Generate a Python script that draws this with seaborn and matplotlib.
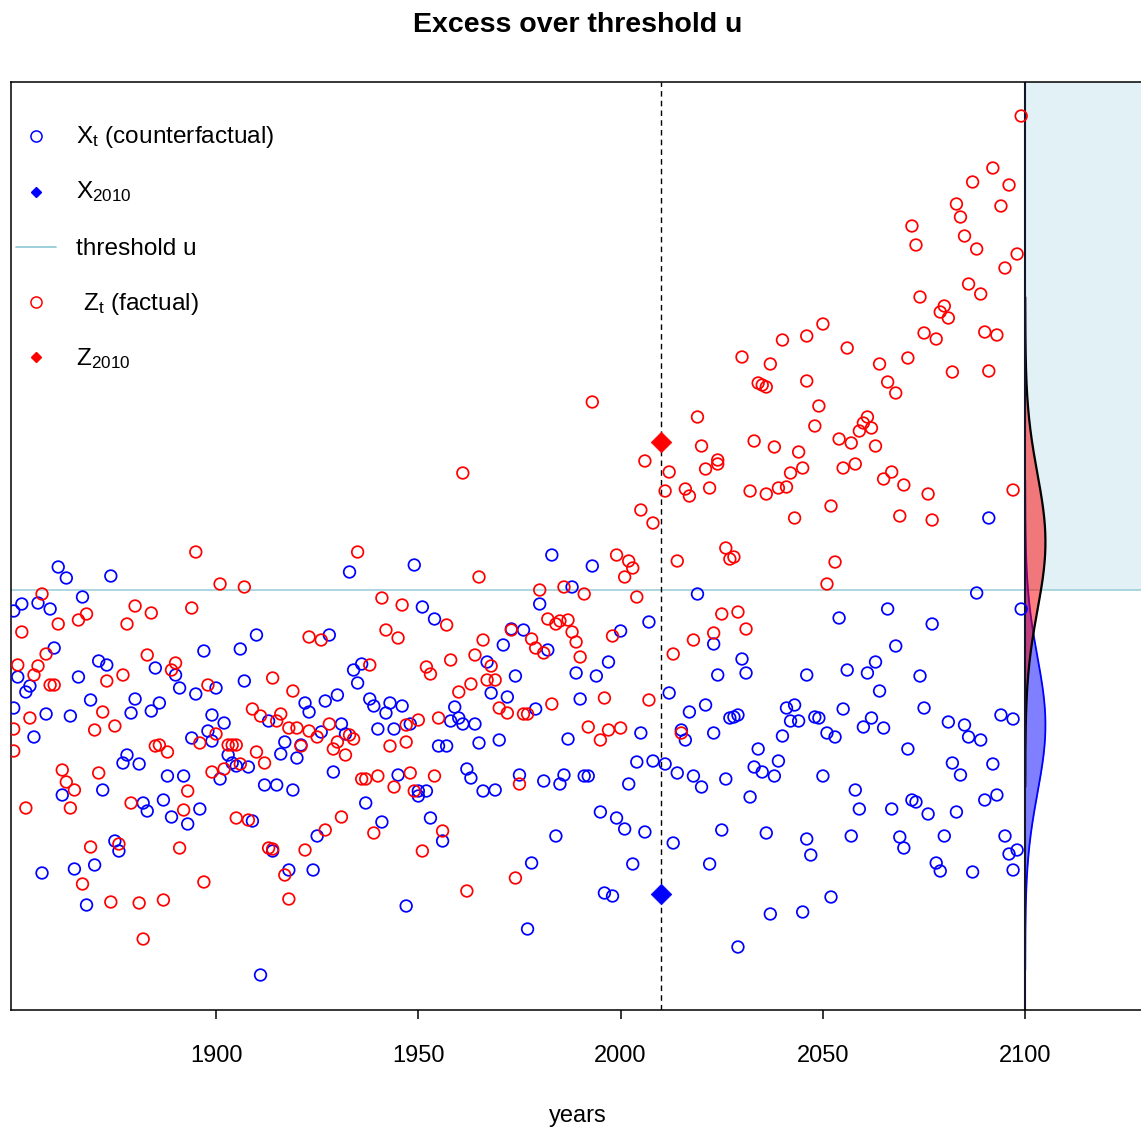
import numpy as np
import matplotlib
matplotlib.use("Agg")
import matplotlib.pyplot as plt
from matplotlib.lines import Line2D
import seaborn as sns

# ---------------------------------------------------------------- data
# counterfactual series X_t (year, value)
x_years = [1850, 1850, 1851, 1852, 1853, 1854, 1855, 1856, 1857, 1858, 1859, 1860, 1861, 1862,
           1863, 1864, 1865, 1866, 1867, 1868, 1869, 1870, 1871, 1872, 1873, 1874,
           1875, 1876, 1877, 1878, 1879, 1880, 1881, 1882, 1883, 1884, 1885, 1886, 1887, 1888,
           1889, 1890, 1891, 1892, 1893, 1894, 1895, 1896, 1897, 1898,
           1899, 1899, 1900, 1901, 1902, 1903, 1904, 1905, 1906, 1907, 1908, 1909, 1910, 1911,
           1912, 1913, 1914, 1915, 1916, 1917, 1918, 1919, 1920, 1921, 1922, 1923, 1924,
           1925, 1926, 1927, 1928, 1929, 1930, 1931, 1932, 1933, 1934, 1935, 1936, 1937, 1938,
           1939, 1940, 1941, 1942, 1943, 1944, 1945, 1946, 1947, 1948,
           1949, 1950, 1950, 1951, 1952, 1953, 1954, 1955, 1956, 1957, 1958, 1959, 1960, 1961,
           1962, 1963, 1964, 1965, 1966, 1967, 1968, 1969, 1970, 1971, 1972,
           1973, 1974, 1975, 1976, 1977, 1978, 1979, 1980, 1981, 1982, 1983, 1984, 1985, 1986,
           1987, 1988, 1989, 1990, 1991, 1992, 1993, 1994, 1995, 1996, 1997,
           1998, 1999, 2000, 2001, 2002, 2003, 2004, 2005, 2006, 2007, 2008, 2011, 2012, 2013,
           2014, 2015, 2016, 2017, 2018, 2019, 2020, 2021, 2022,
           2023, 2023, 2024, 2025, 2026, 2027, 2028, 2029, 2029, 2030, 2031, 2032, 2033, 2034,
           2035, 2036, 2037, 2038, 2039, 2040, 2041, 2042, 2043, 2044, 2045, 2046, 2046,
           2047, 2048, 2049, 2050, 2051, 2052, 2053, 2054, 2055, 2056, 2057, 2058, 2059, 2060,
           2061, 2062, 2063, 2064, 2065, 2066, 2067, 2068, 2069, 2070, 2071,
           2072, 2073, 2074, 2075, 2076, 2077, 2078, 2079, 2080, 2081, 2082, 2083, 2084, 2085,
           2086, 2087, 2088, 2089, 2090, 2091, 2092, 2093, 2094, 2095, 2096, 2097, 2097, 2098,
           2099]
x_values = [3.02, 3.99, 3.33, 4.06, 3.18, 3.24, 2.73, 4.07, 1.37, 2.96, 4.01, 3.62, 4.43, 2.15,
            4.32, 2.94, 1.41, 3.33, 4.13, 1.05, 3.10, 1.45, 3.49, 2.20, 3.45, 4.34,
            1.69, 1.59, 2.47, 2.55, 2.97, 3.11, 2.46, 2.07, 1.99, 2.99, 3.42, 3.07, 2.10, 2.34,
            1.93, 3.35, 3.22, 2.34, 1.86, 2.72, 3.16, 2.01, 3.59, 2.79,
            2.95, 2.69, 3.22, 2.31, 2.87, 2.55, 2.47, 2.44, 3.61, 3.29, 2.43, 1.89, 3.75, 0.35,
            2.25, 2.89, 1.59, 2.25, 2.56, 2.68, 1.40, 2.20, 2.52, 2.65, 3.07, 2.98, 1.40,
            1.74, 2.78, 3.09, 3.75, 2.38, 3.15, 2.86, 2.76, 4.38, 3.40, 3.27, 3.46, 2.07, 3.11,
            3.04, 2.81, 1.88, 2.97, 3.07, 2.81, 2.35, 3.04, 1.04, 2.86,
            4.45, 2.14, 2.19, 4.03, 2.19, 1.92, 3.91, 2.64, 1.69, 2.64, 2.89, 3.03, 2.92, 2.86,
            2.41, 2.32, 2.86, 2.67, 2.19, 3.48, 3.17, 2.20, 2.70, 3.65, 3.13,
            3.81, 3.34, 2.35, 3.80, 0.81, 1.47, 3.01, 4.06, 2.29, 3.60, 4.55, 1.74, 2.26, 2.35,
            2.71, 4.23, 3.37, 3.11, 2.34, 2.34, 4.44, 3.34, 1.98, 1.17, 3.48,
            1.14, 1.92, 3.79, 1.81, 2.26, 1.46, 2.48, 2.77, 1.78, 3.88, 2.49, 2.46, 3.17, 1.67,
            2.37, 2.80, 2.70, 2.98, 2.34, 4.16, 2.23, 3.05, 1.46,
            3.66, 2.77, 3.35, 1.80, 2.31, 2.92, 2.93, 2.95, 0.63, 3.51, 3.37, 2.13, 2.43, 2.61,
            2.38, 1.77, 0.96, 2.34, 2.49, 2.74, 3.02, 2.89, 3.05, 2.89, 0.98, 3.35, 1.71,
            1.55, 2.93, 2.92, 2.34, 2.77, 1.13, 2.73, 3.92, 3.01, 3.40, 1.74, 2.20, 2.01, 2.83,
            3.37, 2.92, 3.48, 3.19, 2.82, 4.01, 2.01, 3.64, 1.73, 1.62, 2.61,
            2.10, 2.08, 3.34, 3.02, 1.96, 3.86, 1.47, 1.39, 1.74, 2.88, 2.47, 1.98, 2.35, 2.85,
            2.73, 1.38, 4.17, 2.70, 2.10, 4.92, 2.46, 2.15, 2.95, 1.74, 1.56, 1.40, 2.91, 1.60,
            4.01]

# factual series Z_t (year, value)
z_years = [1850, 1850, 1851, 1852, 1853, 1854, 1855, 1856, 1857, 1858, 1859, 1860, 1861, 1862,
           1863, 1864, 1865, 1866, 1867, 1868, 1869, 1870, 1871,
           1872, 1873, 1874, 1875, 1876, 1877, 1878, 1879, 1880, 1881, 1882, 1883, 1884, 1885,
           1886, 1887, 1888, 1889, 1890, 1891, 1892, 1893, 1894, 1895, 1896, 1897, 1898, 1899,
           1900, 1901, 1902, 1903, 1904, 1905, 1905, 1906, 1907, 1908, 1909, 1910, 1911, 1912,
           1913, 1914, 1914, 1915, 1916, 1917, 1918, 1918, 1919, 1920, 1921, 1922, 1923,
           1923, 1925, 1926, 1927, 1928, 1929, 1930, 1931, 1932, 1933, 1934, 1935, 1936, 1937,
           1938, 1939, 1940, 1941, 1942, 1943, 1944, 1945, 1946, 1947,
           1947, 1948, 1949, 1950, 1951, 1952, 1953, 1954, 1955, 1956, 1957, 1958, 1960, 1961,
           1962, 1963, 1964, 1965, 1966, 1967, 1968, 1969, 1970, 1972,
           1973, 1974, 1975, 1976, 1977, 1978, 1979, 1980, 1981, 1982, 1983, 1984, 1985, 1986,
           1987, 1988, 1989, 1990, 1991, 1992, 1993, 1995, 1996, 1997, 1998,
           1999, 2000, 2001, 2002, 2003, 2004, 2005, 2006, 2007, 2008, 2011, 2012, 2013, 2014,
           2015, 2016, 2017, 2018, 2019, 2020, 2021, 2022,
           2023, 2024, 2024, 2025, 2026, 2027, 2028, 2029, 2030, 2031, 2032, 2033, 2034, 2035,
           2036, 2036, 2037, 2038, 2039, 2040, 2041, 2042, 2043, 2044, 2045, 2046, 2046,
           2048, 2049, 2050, 2051, 2052, 2053, 2054, 2055, 2056, 2057, 2058, 2059, 2060, 2061,
           2062, 2063, 2064, 2065, 2066, 2067, 2068, 2069, 2070, 2071, 2072,
           2073, 2074, 2075, 2076, 2077, 2078, 2079, 2080, 2081, 2082, 2083, 2084, 2085, 2086,
           2087, 2088, 2089, 2090, 2091, 2092, 2093, 2094, 2095, 2096, 2097, 2098, 2099]
z_values = [2.81, 2.59, 3.45, 3.78, 2.02, 2.92, 3.35, 3.44, 4.16, 3.56, 3.25, 3.25, 3.86, 2.40,
            2.28, 2.02, 2.20, 3.90, 1.26, 3.96, 1.63, 2.80, 2.37,
            2.98, 3.29, 1.08, 2.84, 1.66, 3.35, 3.86, 2.07, 4.04, 1.07, 0.71, 3.55, 3.97, 2.64,
            2.65, 1.10, 2.58, 3.40, 3.47, 1.62, 2.00, 2.19, 4.02, 4.58, 2.67, 1.28, 3.25, 2.38,
            2.76, 4.26, 2.41, 2.65, 2.65, 2.65, 1.92, 2.46, 4.23, 1.90, 3.01, 2.58, 2.94, 2.47,
            1.62, 1.61, 3.32, 2.89, 2.96, 1.35, 2.82, 1.11, 3.19, 2.82, 2.64, 1.60, 3.73,
            2.79, 2.73, 3.70, 1.80, 2.86, 2.61, 2.68, 1.93, 2.55, 2.75, 2.71, 4.58, 2.31, 2.31,
            3.45, 1.77, 2.34, 4.12, 3.80, 2.64, 2.23, 3.72, 4.05, 2.85,
            2.68, 2.37, 2.19, 2.90, 1.59, 3.43, 3.36, 2.34, 2.92, 1.79, 3.85, 3.50, 3.18, 5.37,
            1.19, 3.26, 3.55, 4.33, 3.70, 3.30, 3.44, 3.30, 3.02, 2.97,
            3.80, 1.32, 2.26, 2.96, 2.96, 3.71, 3.62, 4.20, 3.57, 3.91, 3.06, 3.86, 3.89, 4.23,
            3.90, 3.78, 3.68, 3.53, 4.16, 2.83, 6.08, 2.70, 3.12, 2.80, 3.74,
            4.55, 2.82, 4.33, 4.49, 4.42, 4.13, 5.00, 5.49, 3.10, 4.87, 5.19, 5.38, 3.56, 4.49,
            2.77, 5.21, 5.14, 3.70, 5.93, 5.64, 5.41, 5.22,
            3.77, 5.46, 5.50, 3.96, 4.62, 4.51, 4.53, 3.98, 6.53, 3.81, 5.19, 5.69, 6.27, 6.25,
            6.23, 5.16, 6.46, 5.63, 5.22, 6.70, 5.23, 5.37, 4.92, 5.58, 5.42, 6.74, 6.29,
            5.84, 6.04, 6.86, 4.26, 5.04, 4.48, 5.71, 5.42, 6.62, 5.67, 5.46, 5.79, 5.87, 5.93,
            5.82, 5.64, 6.46, 5.31, 6.28, 5.38, 6.17, 4.94, 5.25, 6.52, 7.84,
            7.65, 7.13, 6.77, 5.16, 4.90, 6.71, 6.98, 7.04, 6.92, 6.38, 8.06, 7.93, 7.74, 7.26,
            8.28, 7.61, 7.16, 6.78, 6.39, 8.42, 6.75, 8.04, 7.42, 8.25, 5.20, 7.56, 8.94]

event_year = 2010
x_event = 1.16
z_event = 5.68
threshold_u = 4.20

# normal densities of X and Z in the event year
dens_mean_x = 2.85
dens_mean_z = 4.68
dens_sd = 0.68
dens_base_year = 2100
dens_peak_years = 5.0

tick_years = [1900, 1950, 2000, 2050, 2100]

# ---------------------------------------------------------------- style
sns.set_style("white")
plt.rcParams["font.family"] = ["Liberation Sans", "DejaVu Sans"]
plt.rcParams["mathtext.fontset"] = "custom"
plt.rcParams["mathtext.rm"] = "Liberation Sans"
plt.rcParams["mathtext.it"] = "Liberation Sans:italic"
plt.rcParams["mathtext.bf"] = "Liberation Sans:bold"
plt.rcParams["text.color"] = "black"
plt.rcParams["axes.labelcolor"] = "black"
plt.rcParams["xtick.color"] = "black"
plt.rcParams["ytick.color"] = "black"
plt.rcParams["axes.edgecolor"] = "black"

W, H = 1141, 1130
fig = plt.figure(figsize=(W / 100, H / 100), dpi=100)
fig.patch.set_facecolor("white")

# plot region in pixels: left 11, top 82, bottom 1010; right side runs past the page
XMIN, XMAX = 1849.33, 2131.0
YMIN, YMAX = 0.0, 9.28
px_per_year = 4.046
ax_w = (XMAX - XMIN) * px_per_year
ax = fig.add_axes([11 / W, (H - 1010) / H, ax_w / W, 928 / H])
ax.set_xlim(XMIN, XMAX)
ax.set_ylim(YMIN, YMAX)

thr_col = "#96ccd6"

# exceedance zone beyond the density axis
ax.fill_between([dens_base_year, XMAX], threshold_u, YMAX, color="#e1f1f5", zorder=0, lw=0)
ax.axhline(threshold_u, color=thr_col, lw=1.1, zorder=1)

# densities
def density_curve(mean):
    yy = np.linspace(mean - 3.6 * dens_sd, mean + 3.6 * dens_sd, 400)
    shape = np.exp(-0.5 * ((yy - mean) / dens_sd) ** 2)
    return yy, dens_base_year + dens_peak_years * shape

yb, xb = density_curve(dens_mean_x)
ax.fill_betweenx(yb, dens_base_year, xb, color=(0, 0, 1, 0.5), lw=0, zorder=2)
ax.plot(xb, yb, color="blue", lw=1.3, zorder=2.1)
yr, xr = density_curve(dens_mean_z)
ax.fill_betweenx(yr, dens_base_year, xr, color=(1, 0, 0, 0.5), lw=0, zorder=2.2)
ax.plot(xr, yr, color="black", lw=1.6, zorder=2.3)

ax.axvline(dens_base_year, color="#14142a", lw=1.5, zorder=2.4)
ax.axvline(event_year, color="black", lw=1.0, linestyle=(0, (4, 3)), zorder=2.5)

# yearly values
sns.scatterplot(x=x_years, y=x_values, ax=ax, marker="o", s=70, facecolor="none",
                edgecolor="blue", linewidth=1.25, legend=False, zorder=3)
sns.scatterplot(x=z_years, y=z_values, ax=ax, marker="o", s=70, facecolor="none",
                edgecolor="red", linewidth=1.25, legend=False, zorder=3.1)

# event-year values
sns.scatterplot(x=[event_year], y=[z_event], ax=ax, marker="D", s=110, color="red",
                edgecolor="red", linewidth=0.5, legend=False, zorder=4)
sns.scatterplot(x=[event_year], y=[x_event], ax=ax, marker="D", s=110, color="blue",
                edgecolor="blue", linewidth=0.5, legend=False, zorder=4)

# axes frame and ticks
for side in ["left", "top", "bottom"]:
    ax.spines[side].set_visible(True)
    ax.spines[side].set_color("black")
    ax.spines[side].set_linewidth(1.1)
ax.spines["right"].set_visible(False)
ax.set_yticks([])
ax.set_xticks(tick_years)
ax.set_xticklabels([str(t) for t in tick_years])
ax.tick_params(axis="x", direction="out", length=6.5, width=1.1, pad=19,
               labelsize=17, colors="black", labelcolor="black", bottom=True)
ax.set_xlabel("")
ax.set_ylabel("")

# titles
fig.text(578 / W, 1 - 31.5 / H, "Excess over threshold u", ha="center", va="baseline",
         fontsize=20.5, fontweight="bold", color="black")
fig.text(578 / W, 1 - 1122 / H, "years", ha="center", va="baseline", fontsize=17,
         color="black")

# legend
def fx(px):
    return px / W

def fy(py):
    return 1 - py / H

leg_rows = [136, 192, 247, 302, 357]
leg_base = [143.5, 198, 255, 310, 365.5]
fig.add_artist(Line2D([fx(36)], [fy(leg_rows[0])], marker="o", ms=8, mfc="none", mec="blue",
                      mew=1.1, transform=fig.transFigure))
fig.add_artist(Line2D([fx(36)], [fy(leg_rows[1])], marker="D", ms=5, mfc="blue", mec="blue",
                      transform=fig.transFigure))
fig.add_artist(Line2D([fx(16), fx(56)], [fy(leg_rows[2])] * 2, color=thr_col, lw=1.3,
                      transform=fig.transFigure))
fig.add_artist(Line2D([fx(36)], [fy(leg_rows[3])], marker="o", ms=8, mfc="none", mec="red",
                      mew=1.1, transform=fig.transFigure))
fig.add_artist(Line2D([fx(36)], [fy(leg_rows[4])], marker="D", ms=5, mfc="red", mec="red",
                      transform=fig.transFigure))

leg_text = [
    (76, r"$\mathrm{X}_{\mathrm{t}}$ (counterfactual)"),
    (76, r"$\mathrm{X}_{\mathrm{2010}}$"),
    (76, "threshold u"),
    (83, r"$\mathrm{Z}_{\mathrm{t}}$ (factual)"),
    (76, r"$\mathrm{Z}_{\mathrm{2010}}$"),
]
for (tx, label), by in zip(leg_text, leg_base):
    fig.text(fx(tx), fy(by), label, ha="left", va="baseline", fontsize=17.6, color="black")

fig.savefig("out.png", dpi=100, facecolor="white")
